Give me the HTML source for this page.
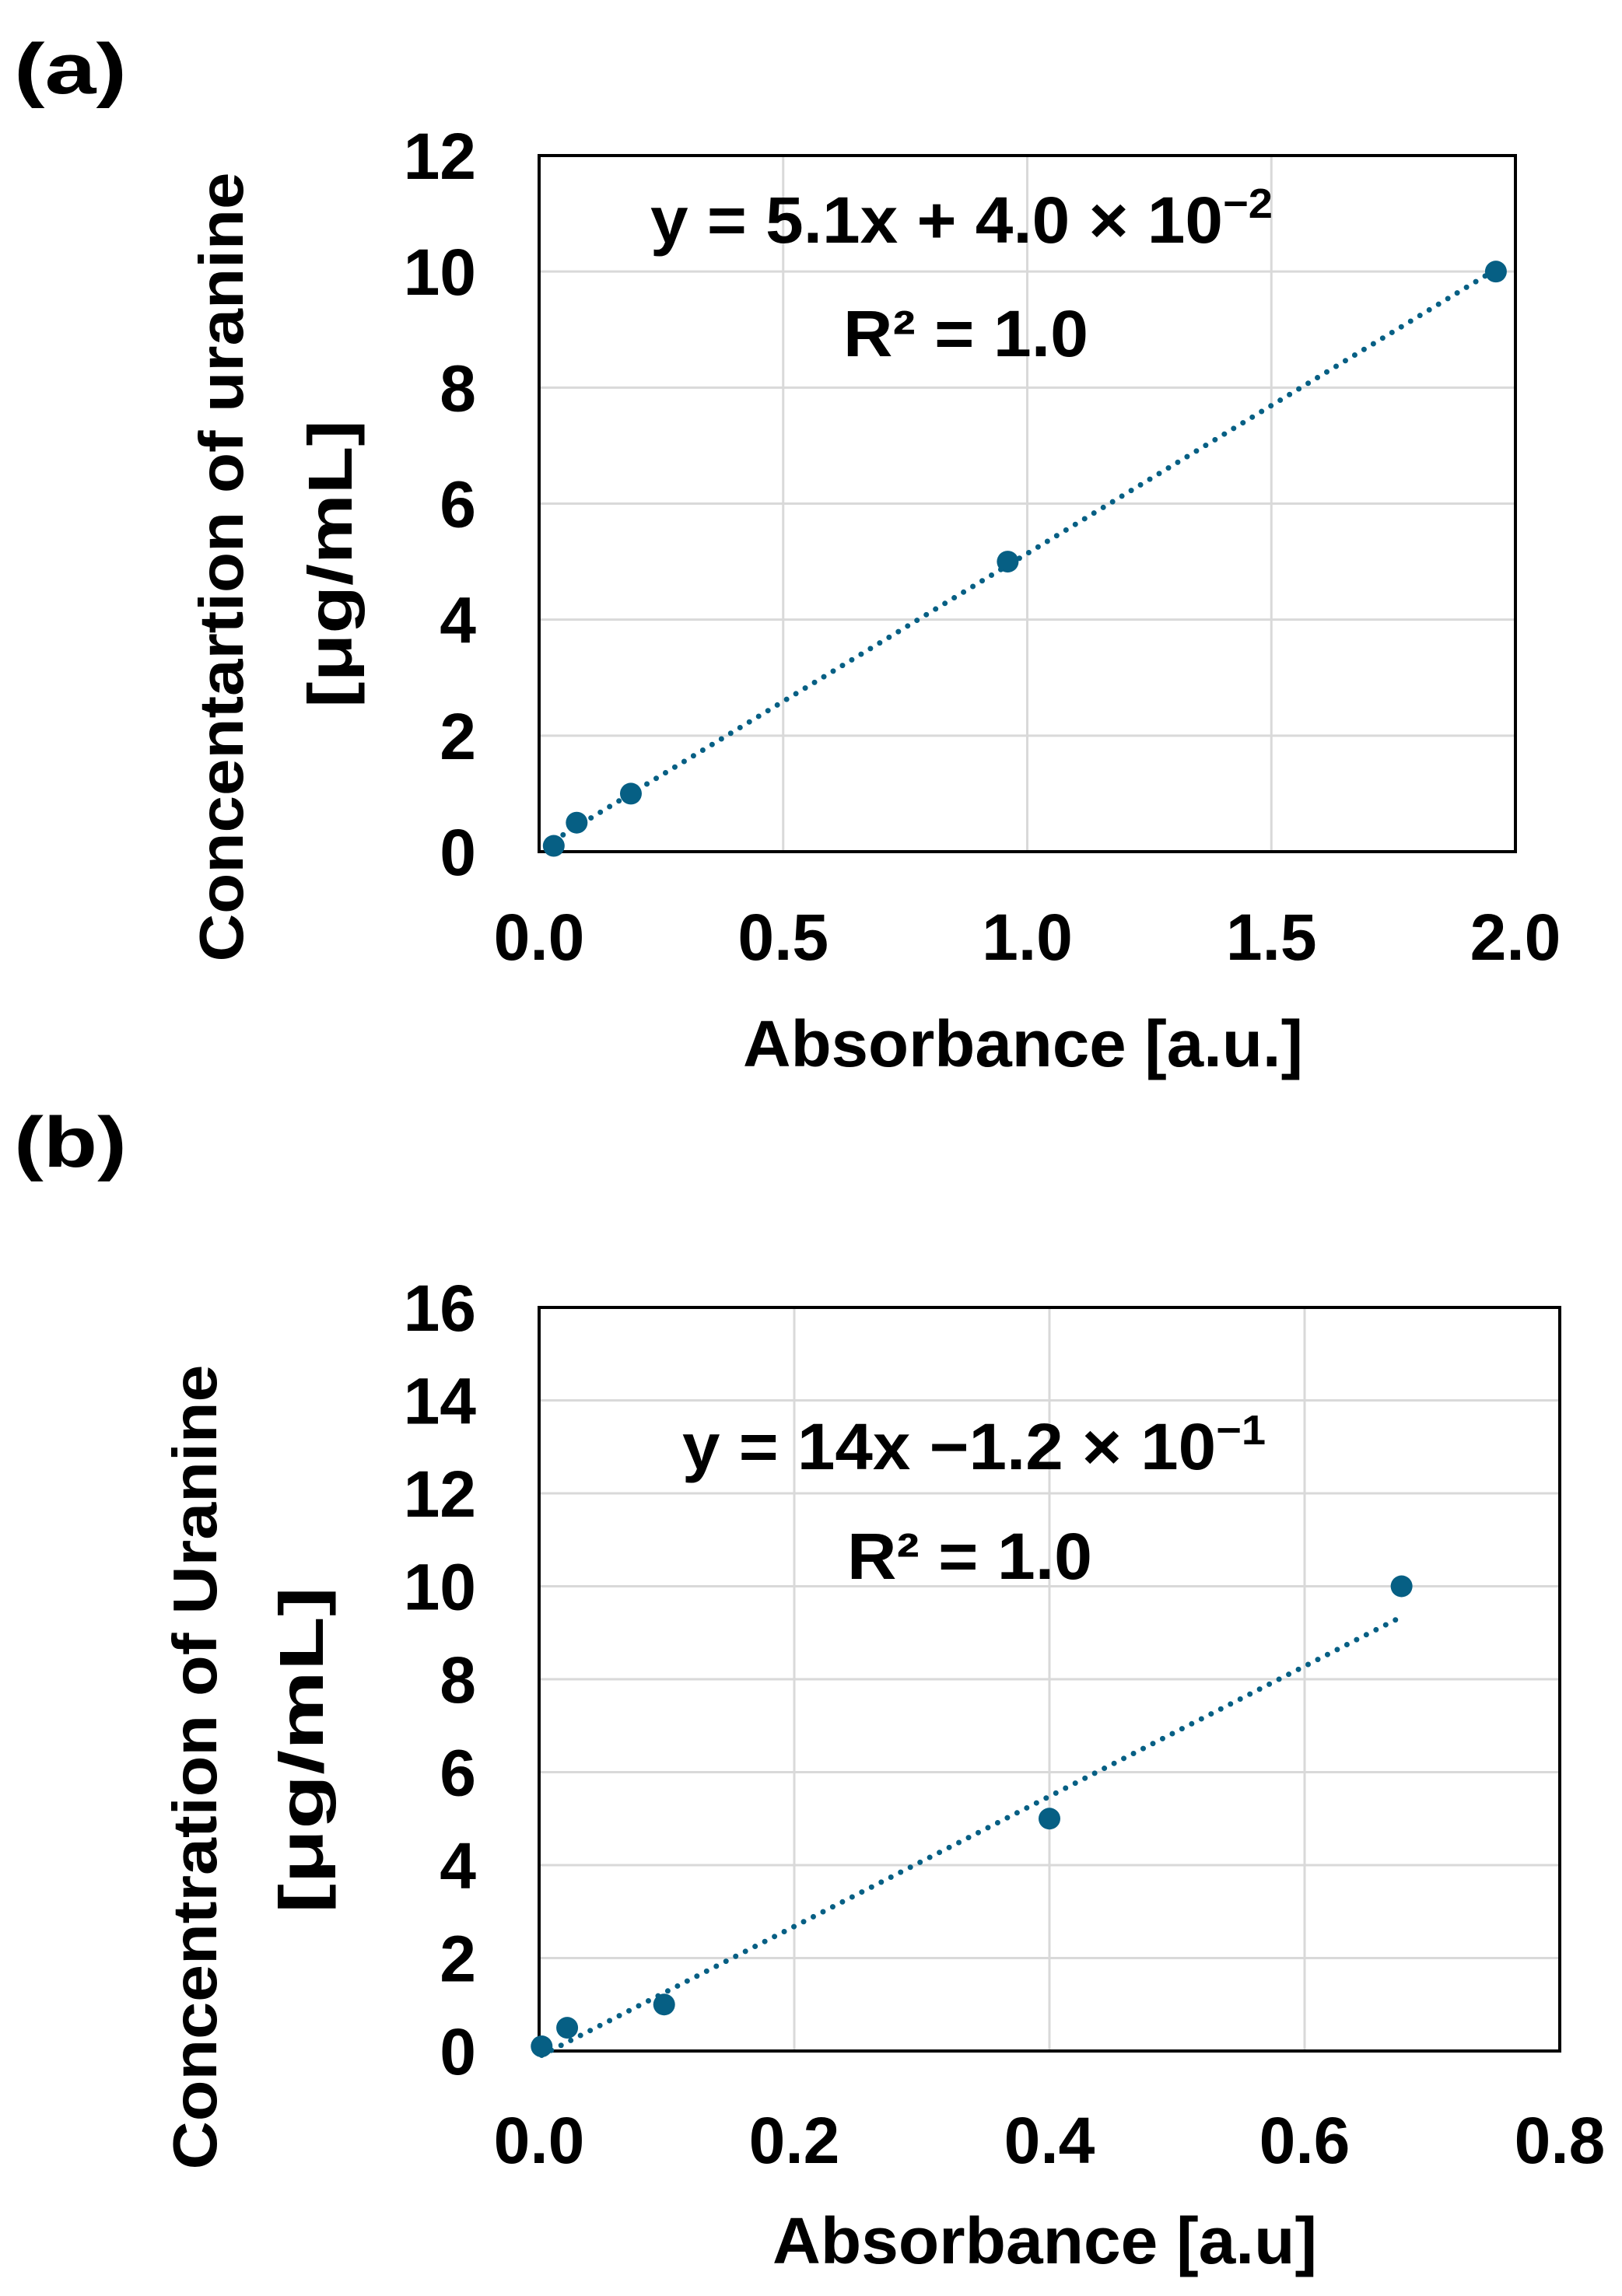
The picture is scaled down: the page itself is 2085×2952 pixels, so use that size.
<!DOCTYPE html>
<html><head><meta charset="utf-8"><style>
html,body{margin:0;padding:0;background:#fff;}
svg{display:block;font-family:"Liberation Sans","Noto Sans CJK JP",sans-serif;font-weight:bold;}
</style></head><body>
<svg id="fig" width="2085" height="2952" viewBox="0 0 2085 2952" xmlns="http://www.w3.org/2000/svg">
<rect x="0" y="0" width="2085" height="2952" fill="#fff"/>
<text x="18" y="120" font-size="92" font-weight="bold" fill="#000" textLength="145" lengthAdjust="spacingAndGlyphs">(a)</text>
<text x="18" y="1500" font-size="92" font-weight="bold" fill="#000" textLength="145" lengthAdjust="spacingAndGlyphs">(b)</text>
<g id="chartA"></g>
<g id="chartB"></g>
</svg>
<script>
// Chart A data
const aX = [0.03, 0.077, 0.188, 0.96, 1.96];
const aY = [0.1, 0.5, 1.0, 5.0, 10.0];
const aXTicks = [0, 0.5, 1.0, 1.5, 2.0];
const aXTickLabels = ["0.0", "0.5", "1.0", "1.5", "2.0"];
const aYTicks = [0, 2, 4, 6, 8, 10, 12];
const aYTickLabels = ["0", "2", "4", "6", "8", "10", "12"];
const aFit = [5.1, 0.04];
// Chart B data
const bX = [0.002, 0.022, 0.098, 0.4, 0.676];
const bY = [0.1, 0.5, 1.0, 5.0, 10.0];
const bXTicks = [0, 0.2, 0.4, 0.6, 0.8];
const bXTickLabels = ["0.0", "0.2", "0.4", "0.6", "0.8"];
const bYTicks = [0, 2, 4, 6, 8, 10, 12, 14, 16];
const bYTickLabels = ["0", "2", "4", "6", "8", "10", "12", "14", "16"];
const bFit = [14, -0.12];

const NS = "http://www.w3.org/2000/svg";
function mk(parent, tag, attrs, text) {
  const e = document.createElementNS(NS, tag);
  for (const k in attrs) e.setAttribute(k, attrs[k]);
  if (text !== undefined) e.textContent = text;
  parent.appendChild(e);
  return e;
}

function drawChart(g, cfg) {
  const sx = v => cfg.L + (v - cfg.xMin) / (cfg.xMax - cfg.xMin) * (cfg.R - cfg.L);
  const sy = v => cfg.B - (v - cfg.yMin) / (cfg.yMax - cfg.yMin) * (cfg.B - cfg.T);
  cfg.yTicks.forEach((t, i) => {
    const y = sy(t);
    const l = mk(g, "line", {x1: cfg.L, x2: cfg.R, y1: y, y2: y, stroke: "#d9d9d9", "stroke-width": 3});
    
    
    const tx = mk(g, "text", {x: 612, y: y + 30, "text-anchor": "end", "font-size": 84, fill: "#000"}, cfg.yLabels[i]);
    
    
  });
  cfg.xTicks.forEach((t, i) => {
    const x = sx(t);
    const l = mk(g, "line", {x1: x, x2: x, y1: cfg.T, y2: cfg.B, stroke: "#d9d9d9", "stroke-width": 3});
    
    
    const tx = mk(g, "text", {x: x, y: cfg.xTickY, "text-anchor": "middle", "font-size": 84, fill: "#000"}, cfg.xLabels[i]);
    
    
  });
  const fr = mk(g, "rect", {x: cfg.L, y: cfg.T, width: cfg.R - cfg.L, height: cfg.B - cfg.T, fill: "none", stroke: "#000", "stroke-width": 4});
  
  
  const x0 = Math.min(...cfg.xs), x1 = Math.max(...cfg.xs);
  const tl = mk(g, "line", {x1: sx(x0), y1: sy(cfg.fit[0] * x0 + cfg.fit[1]), x2: sx(x1), y2: sy(cfg.fit[0] * x1 + cfg.fit[1]),
    stroke: "#065f84", "stroke-width": 7, "stroke-linecap": "round", "stroke-dasharray": "0 14"});
  
  
  cfg.xs.forEach((v, i) => {
    const c = mk(g, "circle", {cx: sx(v), cy: sy(cfg.ys[i]), r: 14, fill: "#065f84"});
    
    
  });
}

const gA = document.getElementById("chartA");
drawChart(gA, {L: 693, R: 1948, T: 200, B: 1095, xMin: 0, xMax: 2, yMin: 0, yMax: 12,
  xTicks: aXTicks, xLabels: aXTickLabels, yTicks: aYTicks, yLabels: aYTickLabels, xTickY: 1234,
  xs: aX, ys: aY, fit: aFit});
const gB = document.getElementById("chartB");
drawChart(gB, {L: 693, R: 2005, T: 1681, B: 2637, xMin: 0, xMax: 0.8, yMin: 0, yMax: 16,
  xTicks: bXTicks, xLabels: bXTickLabels, yTicks: bYTicks, yLabels: bYTickLabels, xTickY: 2781,
  xs: bX, ys: bY, fit: bFit});
</script>
<svg style="position:absolute;left:0;top:0" width="2085" height="2952" viewBox="0 0 2085 2952" xmlns="http://www.w3.org/2000/svg" font-family="'Liberation Sans','Noto Sans CJK JP',sans-serif" font-weight="bold">
<text x="836" y="312" font-size="84" textLength="800" lengthAdjust="spacingAndGlyphs">y = 5.1x + 4.0 × 10<tspan font-size="54" dy="-32">−2</tspan></text>
<text x="1084" y="458" font-size="84" textLength="315" lengthAdjust="spacingAndGlyphs">R² = 1.0</text>
<text transform="translate(312,729) rotate(-90)" text-anchor="middle" font-size="80" textLength="1015" lengthAdjust="spacingAndGlyphs">Concentartion of uranine</text>
<text transform="translate(452,725) rotate(-90)" text-anchor="middle" font-size="80" textLength="370" lengthAdjust="spacingAndGlyphs">[μg/mL]</text>
<text x="1315" y="1371" text-anchor="middle" font-size="84" textLength="720" lengthAdjust="spacingAndGlyphs">Absorbance [a.u.]</text>
<text x="877" y="1889" font-size="84" textLength="750" lengthAdjust="spacingAndGlyphs">y = 14x −1.2 × 10<tspan font-size="54" dy="-32">−1</tspan></text>
<text x="1089" y="2030" font-size="84" textLength="315" lengthAdjust="spacingAndGlyphs">R² = 1.0</text>
<text transform="translate(278,2272) rotate(-90)" text-anchor="middle" font-size="80" textLength="1035" lengthAdjust="spacingAndGlyphs">Concentration of Uranine</text>
<text transform="translate(415,2250) rotate(-90)" text-anchor="middle" font-size="80" textLength="420" lengthAdjust="spacingAndGlyphs">[μg/mL]</text>
<text x="1343" y="2910" text-anchor="middle" font-size="84" textLength="700" lengthAdjust="spacingAndGlyphs">Absorbance [a.u]</text>
</svg>
</body></html>
